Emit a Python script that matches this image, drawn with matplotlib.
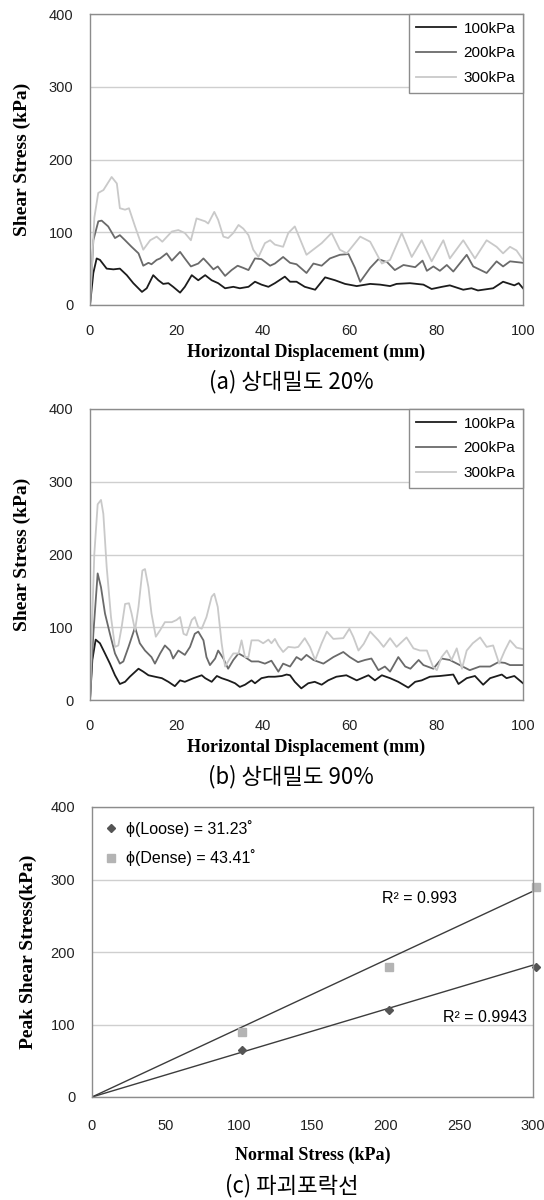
import matplotlib
matplotlib.use("Agg")
import numpy as np
from matplotlib import pyplot as plt

# (a) relative density 20% : horizontal displacement (mm) vs shear stress (kPa)
a_x_100 = [0, 0.77, 1.54, 2.3, 3.85, 5.4, 6.9, 8.5, 10.0, 12.0, 13.1, 14.6, 15.8, 16.9, 18.1,
           19.2, 20.8, 21.9, 23.5, 25.0, 26.6, 28.1, 29.6, 31.2, 33.1, 34.6, 36.6, 38.1, 39.6,
           41.2, 42.7, 45.0, 46.2, 47.7, 49.6, 52.0, 54.3, 56.6, 58.9, 61.6, 64.7, 67.0, 69.3,
           70.8, 73.9, 77.0, 78.9, 81.3, 83.1, 86.2, 88.1, 89.6, 93.1, 95.4, 98.0, 99.0, 100]
a_y_100 = [0, 44, 64, 62, 50, 49, 50, 41, 30, 18, 23, 41, 34, 29, 30, 25, 17, 25, 41, 34, 41,
           34, 30, 23, 25, 23, 25, 32, 28, 25, 30, 39, 32, 32, 25, 21, 38, 34, 29, 26, 29, 28,
           26, 29, 30, 28, 22, 25, 27, 21, 23, 20, 23, 32, 27, 30, 23]

a_x_200 = [0, 0.77, 1.92, 2.69, 4.2, 5.77, 6.9, 8.1, 9.6, 11.2, 12.3, 13.5, 14.2, 15.4, 16.2,
           17.7, 18.9, 20.8, 21.9, 23.3, 25.0, 26.2, 27.3, 28.5, 29.5, 31.2, 32.7, 34.1, 35.4,
           36.6, 38.1, 39.6, 41.6, 42.7, 44.6, 46.2, 47.7, 50.0, 51.6, 53.5, 55.4, 57.7, 59.7,
           61.2, 62.4, 64.7, 66.6, 68.6, 70.4, 72.4, 75.1, 76.8, 77.8, 79.3, 80.8, 82.4, 83.9,
           87.0, 88.5, 91.6, 93.9, 95.4, 97.0, 100]
a_y_200 = [0, 89, 115, 116, 108, 92, 96, 89, 80, 71, 54, 58, 56, 62, 64, 71, 61, 73, 64, 53,
           57, 64, 57, 49, 53, 40, 48, 54, 51, 48, 64, 63, 54, 57, 66, 58, 56, 44, 57, 54, 64,
           69, 70, 51, 32, 51, 63, 59, 48, 55, 52, 61, 47, 53, 47, 55, 46, 69, 53, 44, 60, 53,
           60, 58]

a_x_300 = [0, 1.0, 1.9, 3.1, 5.0, 6.2, 6.9, 8.1, 9.0, 10.4, 12.3, 13.9, 15.4, 16.7, 18.9,
           20.4, 21.9, 23.3, 24.6, 26.6, 27.3, 28.7, 29.6, 30.8, 31.9, 33.1, 34.3, 35.4, 36.6,
           37.7, 38.9, 40.4, 41.6, 42.7, 44.6, 45.8, 47.3, 50.0, 53.5, 55.8, 57.7, 59.3, 62.4,
           64.7, 67.4, 69.3, 72.0, 74.3, 76.6, 78.9, 81.6, 83.1, 86.2, 88.9, 91.6, 93.9, 95.4,
           97.0, 98.5, 100]
a_y_300 = [0, 120, 154, 158, 176, 167, 133, 131, 133, 108, 76, 89, 94, 87, 101, 103, 99, 89,
           119, 115, 112, 128, 117, 94, 92, 99, 110, 105, 96, 76, 66, 85, 89, 83, 80, 99, 108,
           69, 85, 99, 76, 71, 94, 87, 57, 62, 99, 66, 89, 60, 89, 64, 89, 64, 89, 80, 71, 80,
           75, 62]

# (b) relative density 90%
b_x_100 = [0, 0.54, 1.31, 2.3, 3.46, 4.6, 5.77, 6.9, 8.1, 9.2, 11.2, 12.3, 13.5, 15.0, 16.6,
           18.1, 19.6, 20.8, 21.9, 23.9, 25.8, 26.6, 28.1, 29.3, 30.4, 31.9, 33.5, 34.6, 35.8,
           37.3, 38.1, 39.6, 41.2, 42.7, 44.3, 45.4, 46.2, 47.3, 48.8, 50.4, 51.9, 53.5, 55.0,
           56.9, 59.2, 61.6, 64.3, 65.8, 67.4, 69.3, 71.2, 73.5, 75.1, 76.6, 78.5, 80.8, 83.9,
           85.1, 87.0, 88.9, 90.8, 92.4, 95.1, 96.2, 98.0, 100]
b_y_100 = [0, 55, 83, 78, 64, 50, 34, 22, 25, 32, 43, 39, 34, 32, 30, 25, 19, 27, 25, 30, 34,
           30, 25, 33, 30, 27, 23, 18, 21, 27, 23, 30, 32, 32, 33, 35, 34, 25, 16, 23, 25, 21,
           27, 32, 34, 27, 34, 27, 34, 30, 25, 17, 25, 27, 32, 33, 35, 22, 30, 33, 21, 30, 35,
           30, 33, 23]

b_x_200 = [0, 0.77, 1.77, 2.54, 3.46, 4.6, 5.77, 6.9, 7.7, 8.9, 10.4, 11.5, 12.7, 14.2, 15.0,
           16.2, 17.3, 18.5, 19.2, 20.4, 21.9, 23.1, 24.2, 25.0, 26.2, 26.9, 27.7, 28.9, 29.6,
           30.8, 31.9, 33.1, 34.3, 35.8, 37.3, 38.9, 40.4, 41.9, 43.5, 44.6, 46.2, 47.7, 48.8,
           50.0, 51.6, 53.9, 56.2, 58.5, 60.0, 61.9, 63.5, 65.0, 66.6, 68.1, 69.3, 71.2, 72.8,
           74.0, 75.9, 77.0, 79.3, 81.2, 83.1, 85.4, 87.7, 90.0, 92.4, 94.3, 95.8, 97.0, 100]
b_y_200 = [0, 91, 174, 155, 119, 91, 64, 50, 53, 73, 100, 78, 68, 59, 50, 64, 75, 68, 57, 68,
           62, 73, 91, 94, 82, 59, 48, 57, 68, 57, 43, 55, 64, 59, 53, 53, 50, 54, 39, 50, 46,
           59, 55, 62, 55, 50, 59, 66, 59, 52, 55, 57, 41, 46, 39, 59, 46, 43, 55, 48, 43, 57,
           55, 48, 41, 46, 46, 52, 51, 48, 48]

b_x_300 = [0, 0.5, 1.0, 1.77, 2.54, 3.08, 3.85, 4.85, 5.77, 6.54, 7.3, 8.1, 9.0, 9.6, 10.4,
           11.2, 12.1, 12.7, 13.5, 14.2, 15.2, 16.2, 17.3, 18.9, 20.0, 20.8, 21.6, 22.3, 23.5,
           24.2, 25.0, 25.8, 26.9, 28.1, 28.7, 29.5, 30.4, 31.2, 32.3, 33.1, 34.3, 35.0, 35.8,
           36.6, 37.3, 38.9, 40.0, 41.2, 41.9, 42.7, 43.5, 44.6, 45.8, 47.3, 48.1, 49.6, 50.8,
           52.0, 53.5, 54.7, 56.2, 58.5, 59.9, 60.8, 62.0, 63.2, 64.7, 66.6, 67.8, 69.3, 70.8,
           73.1, 74.7, 76.2, 77.8, 79.2, 80.1, 81.2, 82.4, 83.5, 84.7, 85.9, 87.0, 88.4, 90.1,
           91.6, 93.1, 94.5, 95.8, 97.0, 98.5, 100]
b_y_300 = [0, 110, 201, 269, 275, 256, 183, 114, 73, 75, 100, 132, 133, 119, 96, 128, 178,
           180, 155, 119, 87, 96, 107, 107, 110, 114, 91, 89, 110, 114, 100, 98, 114, 142, 146,
           128, 78, 46, 57, 64, 64, 82, 59, 59, 82, 82, 78, 83, 78, 84, 75, 66, 73, 72, 73, 85,
           73, 55, 78, 94, 84, 85, 98, 87, 68, 77, 94, 82, 73, 85, 73, 86, 71, 68, 68, 46, 41,
           59, 68, 55, 71, 43, 68, 78, 86, 73, 75, 50, 68, 82, 72, 70]

# (c) failure envelope
normal_stress = [100, 200, 300]
peak_loose = [65, 120, 180]
peak_dense = [90, 180, 290]
phi_loose = 31.23
phi_dense = 43.41
r2_loose = 0.9943
r2_dense = 0.993

series_labels = ["100kPa", "200kPa", "300kPa"]
series_colors = ["#1c1c1c", "#6a6a6a", "#c9c9c9"]

tick_font = ["Liberation Sans", "DejaVu Sans"]
label_font = ["Liberation Serif", "DejaVu Serif"]
kor_font = ["Noto Sans CJK KR", "DejaVu Sans"]

fig = plt.figure(figsize=(5.44, 12), dpi=100)


def style_axes(ax, xmax, xstep, ymax=400):
    ax.set_xlim(0, xmax)
    ax.set_ylim(0, ymax)
    ax.set_xticks(np.arange(0, xmax + 1, xstep))
    ax.set_yticks(np.arange(0, ymax + 1, 100))
    ax.grid(axis="y", color="#cfcfcf", linewidth=1)
    ax.set_axisbelow(True)
    for s in ax.spines.values():
        s.set_color("#8c8c8c")
        s.set_linewidth(1)
    ax.tick_params(length=0, labelsize=10.5, colors="#222222")
    for t in ax.get_xticklabels() + ax.get_yticklabels():
        t.set_family(tick_font)


def shear_panel(rect, xs, ys):
    ax = fig.add_axes(rect)
    for x, y, lab, col in zip(xs, ys, series_labels, series_colors):
        ax.plot(x, y, color=col, linewidth=1.3, label=lab)
    style_axes(ax, 100, 20)
    ax.tick_params(axis="x", pad=14)
    ax.tick_params(axis="y", pad=12)
    ax.set_xlabel("Horizontal Displacement (mm)", family=label_font, fontweight="bold",
                  fontsize=13, va="center")
    ax.xaxis.set_label_coords(0.5, -0.162)
    ax.set_ylabel("Shear Stress (kPa)", family=label_font, fontweight="bold",
                  fontsize=14, va="center")
    ax.yaxis.set_label_coords(-0.157, 0.5)
    leg = ax.legend(loc="upper right", bbox_to_anchor=(1, 1), borderaxespad=0,
                    fancybox=False, framealpha=1, edgecolor="#8c8c8c",
                    prop={"family": tick_font, "size": 11}, handlelength=2.6,
                    handletextpad=0.5, labelspacing=0.7, borderpad=0.5)
    leg.get_frame().set_linewidth(1)
    return ax


ax_a = shear_panel([90 / 544, 1 - 305 / 1200, 433 / 544, 291 / 1200],
                   [a_x_100, a_x_200, a_x_300], [a_y_100, a_y_200, a_y_300])
fig.text(291 / 544, 1 - 382 / 1200, "(a) 상대밀도 20%", family=kor_font, fontsize=16,
         ha="center", va="center")

ax_b = shear_panel([90 / 544, 1 - 700 / 1200, 433 / 544, 291 / 1200],
                   [b_x_100, b_x_200, b_x_300], [b_y_100, b_y_200, b_y_300])
fig.text(291 / 544, 1 - 777 / 1200, "(b) 상대밀도 90%", family=kor_font, fontsize=16,
         ha="center", va="center")

# (c) failure envelope with trend lines through origin
ax_c = fig.add_axes([92 / 544, 1 - 1097 / 1200, 441 / 544, 290 / 1200])
xs = np.array(normal_stress, dtype=float)
slope_loose = np.tan(np.radians(phi_loose))
slope_dense = np.tan(np.radians(phi_dense))
line_x = np.array([0, 300])
ax_c.plot(line_x, slope_dense * line_x, color="#3c3c3c", linewidth=1.0)
ax_c.plot(line_x, slope_loose * line_x, color="#3c3c3c", linewidth=1.0)
ax_c.plot(xs + 2, peak_loose, linestyle="none", marker="D", markersize=4,
          color="#555555", label="ϕ(Loose) = %.2f˚" % phi_loose, clip_on=False)
ax_c.plot(xs + 2, peak_dense, linestyle="none", marker="s", markersize=5.5,
          color="#b4b4b4", label="ϕ(Dense) = %.2f˚" % phi_dense, clip_on=False)
style_axes(ax_c, 300, 50)
ax_c.tick_params(axis="x", pad=16)
ax_c.tick_params(axis="y", pad=12)
ax_c.text(197, 274, "R² = %.3f" % r2_dense, family=tick_font, fontsize=11.5,
          va="center", ha="left")
ax_c.text(239, 110, "R² = %.4f" % r2_loose, family=tick_font, fontsize=11.5,
          va="center", ha="left")
ax_c.set_xlabel("Normal Stress (kPa)", family=label_font, fontweight="bold",
                fontsize=13, va="center")
ax_c.xaxis.set_label_coords(0.5, -0.2)
ax_c.set_ylabel("Peak Shear Stress(kPa)", family=label_font, fontweight="bold",
                fontsize=14, va="center")
ax_c.yaxis.set_label_coords(-0.145, 0.5)
ax_c.legend(loc="upper left", frameon=False, prop={"family": tick_font, "size": 11.5},
            handlelength=0.8, handletextpad=0.5, labelspacing=0.8,
            borderaxespad=0.4, bbox_to_anchor=(0.0, 1.0))
fig.text(292 / 544, 1 - 1186 / 1200, "(c) 파괴포락선", family=kor_font, fontsize=16,
         ha="center", va="center")

fig.savefig("out.png", dpi=100, facecolor="white")
